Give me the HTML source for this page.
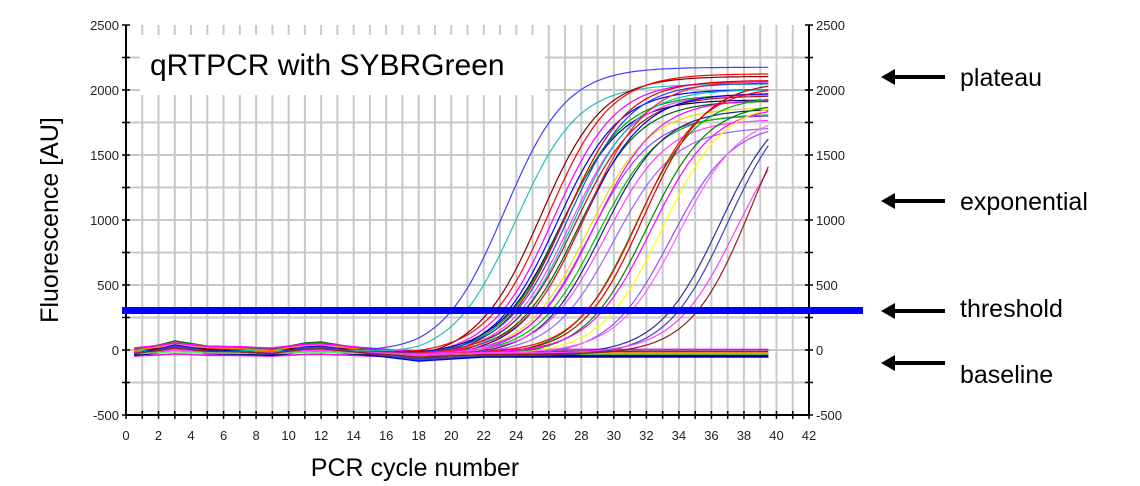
<!DOCTYPE html>
<html><head><meta charset="utf-8"><style>
html,body{margin:0;padding:0;background:#fff;}
svg{display:block;font-family:"Liberation Sans",sans-serif;}
</style></head><body>
<svg id="chart" width="1140" height="486" viewBox="0 0 1140 486">
<g id="grid"></g>
<g id="curves"></g>
<g id="axes"></g>
<rect x="140" y="35" width="405" height="60" fill="#fff"/>
<text x="150" y="75" font-size="30" font-family="Liberation Sans, sans-serif" fill="#000">qRTPCR with SYBRGreen</text>
<rect x="122" y="307" width="741" height="7" fill="#0000ff"/>
<text transform="translate(58,220) rotate(-90)" text-anchor="middle" font-size="25">Fluorescence [AU]</text>
<text x="415" y="476" text-anchor="middle" font-size="25">PCR cycle number</text>
<g><line x1="890" y1="77" x2="945" y2="77" stroke="#000" stroke-width="4"/><polygon points="881,77 895,69 895,85" fill="#000"/><text x="960" y="86" font-size="25">plateau</text></g>
<g><line x1="890" y1="201" x2="945" y2="201" stroke="#000" stroke-width="4"/><polygon points="881,201 895,193 895,209" fill="#000"/><text x="960" y="210" font-size="25">exponential</text></g>
<g><line x1="890" y1="311" x2="945" y2="311" stroke="#000" stroke-width="4"/><polygon points="881,311 895,303 895,319" fill="#000"/><text x="960" y="317" font-size="25">threshold</text></g>
<g><line x1="890" y1="363" x2="945" y2="363" stroke="#000" stroke-width="4"/><polygon points="881,363 895,355 895,371" fill="#000"/><text x="960" y="383" font-size="25">baseline</text></g>
</svg>
<script>
const xTicks=[0,2,4,6,8,10,12,14,16,18,20,22,24,26,28,30,32,34,36,38,40,42];
const yTicks=[-500,0,500,1000,1500,2000,2500];
const midCycles=[23.3,24,25.5,26,26.3,26.5,26.7,26.8,27,27.2,27.3,27.5,27.6,27.8,28,28.2,28.4,28.5,28.8,29,29.3,29.5,30,31.3,31.5,31.8,32,32.3,33,33.5,34,36.5,37,37.5,38.5];
const plateaus=[2200,2080,2150,2150,2100,2050,1950,2000,2120,2080,2000,2050,1980,1950,2020,2100,1900,1850,1950,1850,1900,1800,1750,2000,2050,2100,1950,1900,1950,1800,1850,2000,2050,1900,2300];
const curveColors=["#4040ff","#20c0c0","#800000","#ff0000","#ff00ff","#0000ff","#000080","#00a000","#e00000","#2040ff","#ff40ff","#00c0c0","#a02020","#006000","#0000e0","#ff2020","#e0e000","#9040ff","#ff00ff","#00c000","#202080","#ff40ff","#a060ff","#00b000","#ff0000","#d00000","#008000","#ff00ff","#ffff00","#9050ff","#ff60ff","#303090","#4040c0","#ff40ff","#902020"];
const flatColors=["#ff00ff","#00ff00","#0000ff","#ff0000","#ffff00","#00c0c0","#800000","#ff80ff","#008000","#8040ff","#000080","#ff8000","#40ff40","#ff00ff","#0000c0"];
const flatOffsets=[-60,-40,-30,-20,-10,0,10,20,30,-25,-45,15,-35,35,-15];
const baselineCycles=[0.5,2,3,5,7,9,11,12,14,16,18,20,22];
const baselineValues=[-10,10,30,5,0,-10,20,25,0,-20,-40,-30,-20];
const X0=126,X1=809,Y0=415,Y1=25;
const xs=c=>X0+(c-0)*(X1-X0)/42;
const ys=v=>Y0-(v+500)*(Y0-Y1)/3000;
const NS="http://www.w3.org/2000/svg";
function mk(t,a,p){const e=document.createElementNS(NS,t);for(const k in a)e.setAttribute(k,a[k]);p.appendChild(e);return e;}
const grid=document.getElementById('grid'),axes=document.getElementById('axes'),cg=document.getElementById('curves');
for(let c=1;c<42;c++){const l=mk('line',{x1:xs(c),x2:xs(c),y1:Y1,y2:Y0,stroke:'#c8c8c8','stroke-width':2},grid);

}
for(let v=-250;v<2500;v+=250){const l=mk('line',{x1:X0,x2:X1,y1:ys(v),y2:ys(v),stroke:'#c8c8c8','stroke-width':2},grid);

}
function baseAt(c){if(c<=baselineCycles[0])return baselineValues[0];for(let i=1;i<baselineCycles.length;i++){if(c<=baselineCycles[i]){const t=(c-baselineCycles[i-1])/(baselineCycles[i]-baselineCycles[i-1]);return baselineValues[i-1]+t*(baselineValues[i]-baselineValues[i-1]);}}return baselineValues[baselineValues.length-1];}
flatOffsets.forEach((o,i)=>{let d='';for(let c=0.5;c<=39.5;c+=0.5){const v=o*0.7+baseAt(c)*(1+(i%3-1)*0.6);d+=(d?'L':'M')+xs(c).toFixed(1)+','+ys(v).toFixed(1);}
const p=mk('path',{d:d,fill:'none',stroke:flatColors[i],'stroke-width':1.6},cg);

});
midCycles.forEach((m,i)=>{let d='';for(let c=0.5;c<=39.5;c+=0.25){const v=plateaus[i]/(1+Math.exp(-(c-m)/1.9))+baseAt(c)*(1+(i%3-1)*0.5)-15;d+=(d?'L':'M')+xs(c).toFixed(1)+','+ys(v).toFixed(1);}
const p=mk('path',{d:d,fill:'none',stroke:curveColors[i],'stroke-width':1.2},cg);

});
[X0,X1].forEach(x=>{const l=mk('line',{x1:x,x2:x,y1:Y1,y2:Y0,stroke:'#000','stroke-width':2},axes);

});
const xb=mk('line',{x1:X0,x2:X1,y1:Y0,y2:Y0,stroke:'#000','stroke-width':2},axes);


for(let c=0;c<=42;c++){mk('line',{x1:xs(c),x2:xs(c),y1:Y0-4,y2:Y0+4,stroke:'#000','stroke-width':1.5},axes);}
xTicks.forEach(c=>{const t=mk('text',{x:xs(c),y:Y0+25,'text-anchor':'middle','font-size':13,fill:'#222'},axes);t.textContent=c;

});
for(let v=-500;v<=2500;v+=250){[X0,X1].forEach(x=>mk('line',{x1:x-4,x2:x+4,y1:ys(v),y2:ys(v),stroke:'#000','stroke-width':1.5},axes));}
yTicks.forEach(v=>{const t=mk('text',{x:X0-7,y:ys(v)+5,'text-anchor':'end','font-size':13,fill:'#222'},axes);t.textContent=v;


const r=mk('text',{x:X1+7,y:ys(v)+5,'text-anchor':'start','font-size':13,fill:'#222'},axes);r.textContent=v;

});
</script>
</body></html>
